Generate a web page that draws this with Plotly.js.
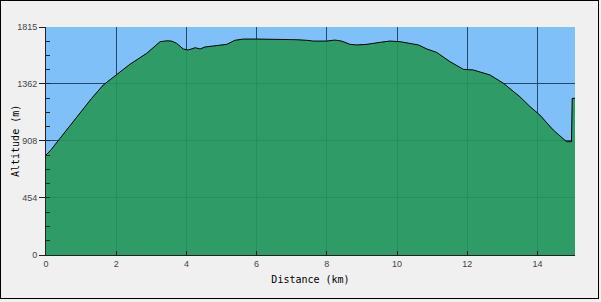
<!DOCTYPE html>
<html>
<head>
<meta charset="utf-8">
<script src="https://cdn.plot.ly/plotly-3.0.1.min.js"></script>
<style>
  html, body { margin: 0; padding: 0; background: #ffffff; }
  #wrap { position: relative; width: 601px; height: 302px; }
  #chart { width: 601px; height: 302px; }
  #frame { position: absolute; left: 0px; top: 0px; width: 597px; height: 297px;
           border: 1px solid #000; pointer-events: none; }
</style>
</head>
<body>
<div id="wrap">
  <div id="chart"></div>
  <div id="frame"></div>
</div>
<script>
// Distance along the route (km)
const distanceKm = [0, 0.15, 0.40, 0.70, 0.97, 1.30, 1.63, 2.01, 2.39, 2.87, 3.25, 3.45, 3.58, 3.72, 3.91, 4.05, 4.25, 4.39, 4.53, 4.77, 5.15, 5.38, 5.62, 6.00, 6.38, 6.76, 7.14, 7.43, 7.62, 8.00, 8.23, 8.42, 8.66, 8.85, 9.14, 9.52, 9.80, 10.09, 10.37, 10.61, 10.85, 11.13, 11.51, 11.89, 12.17, 12.65, 13.03, 13.50, 13.79, 14.07, 14.45, 14.74, 14.83, 14.97, 14.99, 15.07];
// Altitude (m)
const altitudeM = [796, 840, 929, 1035, 1136, 1247, 1353, 1438, 1518, 1606, 1698, 1705, 1703, 1685, 1640, 1632, 1650, 1640, 1656, 1664, 1677, 1709, 1719, 1719, 1719, 1719, 1714, 1709, 1703, 1703, 1711, 1703, 1677, 1672, 1677, 1693, 1703, 1698, 1685, 1672, 1640, 1613, 1539, 1478, 1473, 1433, 1367, 1260, 1181, 1114, 995, 921, 902, 902, 1247, 1247];
// Tick labels
const yTickVals = [0, 454, 908, 1362, 1815];
const yTickText = ["0", "454", "908", "1362", "1815"];
const xTickVals = [0, 2, 4, 6, 8, 10, 12, 14];
const xTitle = 'Distance (km)';
const yTitle = 'Altitude (m)';

const trace = {
  x: distanceKm,
  y: altitudeM,
  type: 'scatter',
  mode: 'lines',
  fill: 'tozeroy',
  fillcolor: 'rgba(38,152,88,0.9)',
  line: { color: '#000000', width: 1 },
  hoverinfo: 'skip'
};

const gridCol = '#24466f';
const titleFont = { family: 'DejaVu Sans Mono, monospace', size: 10, color: '#000' };
const tickFont = { family: 'Liberation Sans, Arial, sans-serif', size: 9, color: '#444' };
const layout = {
  width: 601,
  height: 302,
  margin: { l: 46, r: 26, t: 27, b: 47 },
  paper_bgcolor: '#f0f0f0',
  plot_bgcolor: '#80c0f8',
  showlegend: false,
  xaxis: {
    range: [0, 15.07],
    tickmode: 'array',
    tickvals: xTickVals,
    ticks: 'inside',
    ticklen: 4,
    tickcolor: '#222',
    showgrid: true,
    gridcolor: gridCol,
    gridwidth: 1,
    zeroline: false,
    showline: true,
    linecolor: '#222',
    linewidth: 1,
    tickfont: tickFont,
    title: { text: xTitle, font: titleFont, standoff: 8 },
    fixedrange: true
  },
  yaxis: {
    range: [0, 1815],
    tickmode: 'array',
    tickvals: yTickVals,
    ticktext: yTickText,
    ticks: 'outside',
    ticklen: 6,
    tickcolor: '#222',
    minor: { dtick: 113.5, tick0: 0, ticks: 'inside', ticklen: 4, tickcolor: '#222', showgrid: false },
    showgrid: true,
    gridcolor: gridCol,
    gridwidth: 1,
    zeroline: false,
    showline: true,
    linecolor: '#222',
    linewidth: 1,
    tickfont: tickFont,
    fixedrange: true
  },
  annotations: [{
    text: yTitle,
    font: titleFont,
    xref: 'paper', yref: 'paper',
    x: 0, y: 0.5,
    xanchor: 'center', yanchor: 'middle',
    xshift: -31,
    textangle: -90,
    showarrow: false
  }]
};

Plotly.newPlot('chart', [trace], layout, { staticPlot: true, displayModeBar: false });
</script>
</body>
</html>
